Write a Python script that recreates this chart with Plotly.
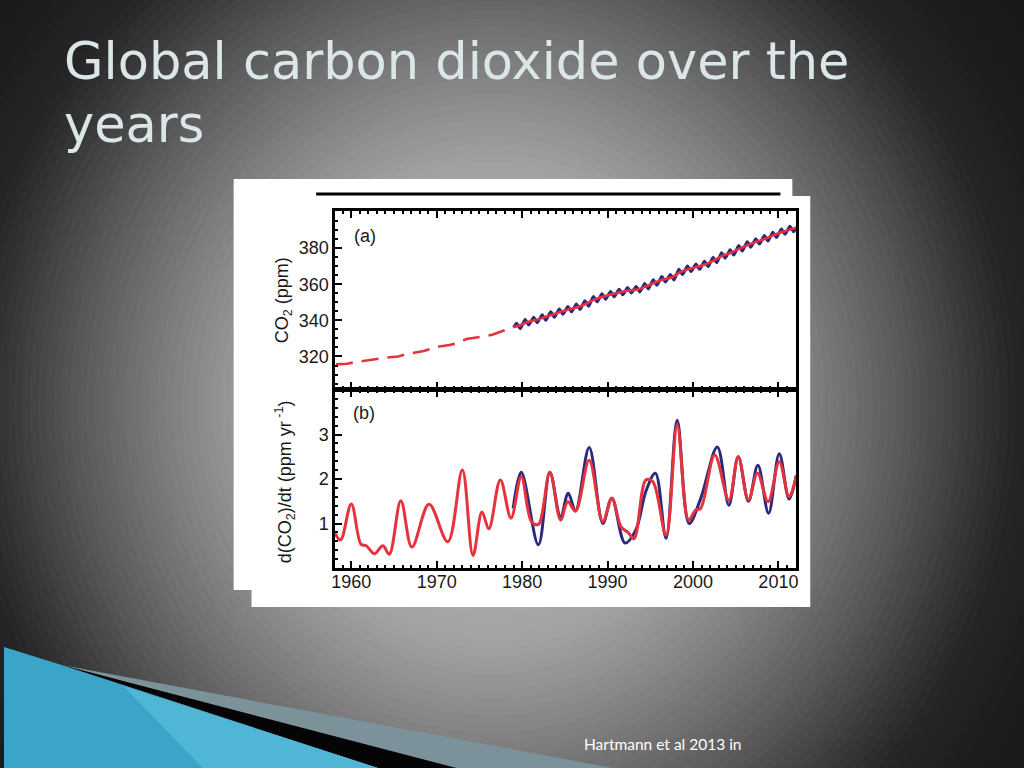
import plotly.graph_objects as go

W, H = 1024, 768

# ---- data ----
# (a) CO2 concentration, ppm
early_years = [1958.2, 1959.5, 1960.5, 1961.5, 1962.5, 1963.5, 1964.5, 1965.5, 1966.5, 1967.5,
               1968.5, 1969.5, 1970.5, 1971.5, 1972.5, 1973.5, 1974.5, 1975.5, 1976.5, 1977.5,
               1978.5, 1979.0]
early_co2 = [315.6, 316.0, 316.9, 317.6, 318.4, 319.0, 319.6, 320.0, 321.4, 322.2,
             323.0, 324.6, 325.7, 326.3, 327.5, 329.7, 330.2, 331.1, 332.0, 333.8,
             335.4, 336.3]

trend_years = [1979.0, 1979.5, 1980.5, 1981.5, 1982.5, 1983.5, 1984.5, 1985.5, 1986.5, 1987.5,
               1988.5, 1989.5, 1990.5, 1991.5, 1992.5, 1993.5, 1994.5, 1995.5, 1996.5, 1997.5,
               1998.5, 1999.5, 2000.5, 2001.5, 2002.5, 2003.5, 2004.5, 2005.5, 2006.5, 2007.5,
               2008.5, 2009.5, 2010.5, 2011.5, 2012.1]
trend_co2 = [336.3, 336.8, 338.8, 340.1, 341.5, 343.1, 344.7, 346.1, 347.4, 349.2,
             351.6, 353.1, 354.4, 355.6, 356.5, 357.1, 358.8, 360.8, 362.6, 363.7,
             366.7, 368.4, 369.6, 371.1, 373.3, 375.8, 377.5, 379.8, 381.9, 383.6,
             385.3, 387.2, 389.0, 390.4, 391.3]

monthly_years = [1979.0,
                 1979.35, 1979.78, 1980.35, 1980.78, 1981.35, 1981.78, 1982.35, 1982.78,
                 1983.35, 1983.78, 1984.35, 1984.78, 1985.35, 1985.78, 1986.35, 1986.78,
                 1987.35, 1987.78, 1988.35, 1988.78, 1989.35, 1989.78, 1990.35, 1990.78,
                 1991.35, 1991.78, 1992.35, 1992.78, 1993.35, 1993.78, 1994.35, 1994.78,
                 1995.35, 1995.78, 1996.35, 1996.78, 1997.35, 1997.78, 1998.35, 1998.78,
                 1999.35, 1999.78, 2000.35, 2000.78, 2001.35, 2001.78, 2002.35, 2002.78,
                 2003.35, 2003.78, 2004.35, 2004.78, 2005.35, 2005.78, 2006.35, 2006.78,
                 2007.35, 2007.78, 2008.35, 2008.78, 2009.35, 2009.78, 2010.35, 2010.78,
                 2011.35, 2011.78, 2012.1]
monthly_co2 = [336.0,
               338.4, 335.4, 340.4, 337.4, 341.7, 338.7, 343.1, 340.1,
               344.7, 341.7, 346.3, 343.3, 347.7, 344.7, 349.0, 346.0,
               350.8, 347.8, 353.2, 350.2, 354.7, 351.7, 356.0, 353.0,
               357.2, 354.2, 358.1, 355.1, 358.7, 355.7, 360.4, 357.4,
               362.4, 359.4, 364.2, 361.2, 365.3, 362.3, 368.3, 365.3,
               370.0, 367.0, 371.2, 368.2, 372.7, 369.7, 374.9, 371.9,
               377.4, 374.4, 379.1, 376.1, 381.4, 378.4, 383.5, 380.5,
               385.2, 382.2, 386.9, 383.9, 388.8, 385.8, 390.6, 387.6,
               392.0, 389.0, 391.6]

# (b) growth rate, ppm per year
rate_red_years = [1958.1, 1958.75, 1960.0, 1961.15, 1961.75, 1962.7, 1963.7, 1964.45, 1965.8,
                  1967.1, 1969.1, 1971.3, 1973.0, 1974.25, 1975.3, 1976.1, 1977.45, 1978.7,
                  1979.9, 1981.1, 1981.9, 1983.25, 1984.5, 1985.35, 1986.25, 1987.85,
                  1989.45, 1990.5, 1991.6, 1992.4, 1993.1, 1994.5, 1995.3, 1996.85,
                  1998.15, 1999.5, 2000.3, 2000.9, 2002.55, 2004.2, 2005.3, 2006.5,
                  2007.55, 2008.8, 2010.1, 2011.25, 2012.1]
rate_red = [0.78, 0.63, 1.44, 0.53, 0.50, 0.32, 0.50, 0.31, 1.51,
            0.47, 1.43, 0.59, 2.20, 0.28, 1.26, 0.88, 1.98, 1.12,
            2.05, 1.04, 0.98, 2.15, 1.08, 1.49, 1.28, 2.42,
            1.04, 1.57, 0.92, 0.80, 0.66, 1.98, 1.94, 0.74,
            3.21, 1.08, 1.30, 1.34, 2.54, 1.52, 2.50, 1.53,
            2.13, 1.49, 2.39, 1.60, 2.08]

rate_blue_years = [1978.95, 1979.9, 1981.9, 1983.25, 1984.5, 1985.4, 1986.25, 1987.85,
                   1989.45, 1990.5, 1992.05, 1993.3, 1994.5, 1995.6, 1996.85, 1998.15,
                   1999.55, 2000.9, 2002.85, 2004.2, 2005.3, 2006.5, 2007.6, 2008.85,
                   2010.1, 2011.25, 2012.1]
rate_blue = [1.34, 2.15, 0.52, 2.15, 1.15, 1.68, 1.28, 2.71,
             1.00, 1.57, 0.56, 0.85, 1.73, 2.13, 0.67, 3.32,
             1.00, 1.56, 2.72, 1.41, 2.50, 1.50, 2.31, 1.23,
             2.57, 1.55, 2.08]

x_ticks = [1960, 1970, 1980, 1990, 2000, 2010]
co2_ticks = [320, 340, 360, 380]
rate_ticks = [1, 2, 3]

RED = "#e5323c"
BLUE = "#2c2a7c"


def px(x):
    return x / W


def py(y):
    return 1 - y / H


fig = go.Figure()

fig.add_trace(go.Scatter(x=monthly_years, y=monthly_co2, mode="lines",
                         line=dict(color=BLUE, width=3, shape="spline", smoothing=0.6),
                         xaxis="x", yaxis="y", hoverinfo="skip"))
fig.add_trace(go.Scatter(x=early_years, y=early_co2, mode="lines",
                         line=dict(color=RED, width=2.6, dash="17px,9px"),
                         xaxis="x", yaxis="y"))
fig.add_trace(go.Scatter(x=trend_years, y=trend_co2, mode="lines",
                         line=dict(color=RED, width=2.6, shape="spline"),
                         xaxis="x", yaxis="y"))
fig.add_trace(go.Scatter(x=rate_blue_years, y=rate_blue, mode="lines",
                         line=dict(color=BLUE, width=3, shape="spline", smoothing=1),
                         xaxis="x2", yaxis="y2"))
fig.add_trace(go.Scatter(x=rate_red_years, y=rate_red, mode="lines",
                         line=dict(color=RED, width=3, shape="spline", smoothing=1),
                         xaxis="x2", yaxis="y2"))

# ---- slide background: radial grey glow, drawn as many stacked discs ----
profile = [(0, 182), (150, 174), (230, 162), (300, 138), (370, 110), (430, 84),
           (480, 60), (530, 38), (600, 28), (800, 16)]


def grey_at(r):
    for (r0, g0), (r1, g1) in zip(profile, profile[1:]):
        if r0 <= r <= r1:
            return g0 + (g1 - g0) * (r - r0) / (r1 - r0)
    return profile[-1][1]


shapes = []
cx, cy = 490, 405
for r in range(800, 0, -8):
    g = int(round(grey_at(r)))
    shapes.append(dict(type="circle", xref="paper", yref="paper", layer="below",
                       x0=px(cx - r), x1=px(cx + r), y0=py(cy + r * 1.05), y1=py(cy - r * 1.05),
                       fillcolor=f"rgb({g},{g},{g})", line=dict(width=0)))

# bottom-left ribbons
ribbons = [
    ([(58, 665), (612, 768), (455, 768)], "#7b929b"),
    ([(58, 665), (455, 768), (376, 768)], "#050505"),
    ([(0, 647), (58, 665), (376, 768), (0, 768)], "#3aa5c8"),
    ([(120, 686), (376, 768), (200, 768)], "#4fb6d6"),
]
for pts, col in ribbons:
    path = "M " + " L ".join(f"{px(a)},{py(b)}" for a, b in pts) + " Z"
    shapes.append(dict(type="path", xref="paper", yref="paper", layer="below",
                       path=path, fillcolor=col, line=dict(width=0)))

# white picture frames
shapes.append(dict(type="rect", xref="paper", yref="paper", layer="below",
                   x0=px(231), x1=px(793), y0=py(590), y1=py(179),
                   fillcolor="white", line=dict(width=0)))
shapes.append(dict(type="rect", xref="paper", yref="paper", layer="below",
                   x0=px(249), x1=px(811), y0=py(607), y1=py(196),
                   fillcolor="white", line=dict(width=0)))
# black rule above panel (a)
shapes.append(dict(type="line", xref="paper", yref="paper",
                   x0=px(314), x1=px(781), y0=py(194), y1=py(194),
                   line=dict(color="black", width=3)))

axis_font = dict(family="Liberation Sans, Arial, sans-serif", size=18, color="#1a1a1a")
title_font = dict(family="DejaVu Sans, sans-serif", size=51, color="#dae6e8")
common_x = dict(range=[1958.1, 2012.1], showline=True, linecolor="black", linewidth=2.5,
                mirror="ticks", ticks="inside", ticklen=7, tickwidth=2, tickcolor="black",
                tickvals=x_ticks, showgrid=False, zeroline=False,
                minor=dict(dtick=1, tick0=1960, ticks="inside", ticklen=3.5,
                           tickwidth=1.5, tickcolor="black", showgrid=False))
common_y = dict(showline=True, linecolor="black", linewidth=2.5, mirror=True,
                ticks="inside", ticklen=7, tickwidth=2, tickcolor="black",
                showgrid=False, zeroline=False, tickfont=axis_font)


def note(text, x, y, font, xanchor="left", angle=0):
    return dict(text=text, x=px(x), y=py(y), xref="paper", yref="paper",
                xanchor=xanchor, yanchor="middle", textangle=angle,
                showarrow=False, font=font)


annotations = [
    note("Global carbon dioxide over the", 58, 62, title_font),
    note("years", 58, 124, title_font),
    note("Hartmann et al 2013 in", 581, 744,
         dict(family="Lato, sans-serif", size=15.5, color="white")),
    note("(a)", 350, 236, axis_font),
    note("(b)", 349, 413, axis_font),
    note("CO<sub>2</sub> (ppm)", 281, 300, axis_font, "center", -90),
    note("d(CO<sub>2</sub>)/dt (ppm yr<sup> -1</sup>)", 282, 482, axis_font, "center", -90),
]

fig.update_layout(
    width=W, height=H,
    margin=dict(l=0, r=0, t=0, b=0),
    paper_bgcolor="#121212",
    plot_bgcolor="white",
    showlegend=False,
    xaxis=dict(common_x, domain=[px(333), px(797)], anchor="y", showticklabels=False),
    yaxis=dict(common_y, domain=[py(389), py(211)], anchor="x", range=[302, 400.5],
               tickvals=co2_ticks,
               minor=dict(dtick=5, tick0=300, ticks="inside", ticklen=3.5,
                          tickwidth=1.5, tickcolor="black", showgrid=False)),
    xaxis2=dict(common_x, domain=[px(333), px(797)], anchor="y2", tickfont=axis_font,
                ticklabelstandoff=-4),
    yaxis2=dict(common_y, domain=[py(568), py(390)], anchor="x2", range=[0, 4],
                tickvals=rate_ticks,
                minor=dict(dtick=0.2, tick0=0, ticks="inside", ticklen=3.5,
                           tickwidth=1.5, tickcolor="black", showgrid=False)),
    shapes=shapes,
    annotations=annotations,
)

fig.write_html("out.html", config={"displayModeBar": False},
               post_script="document.body.style.margin='0';"
                           "document.body.style.overflow='hidden';")
